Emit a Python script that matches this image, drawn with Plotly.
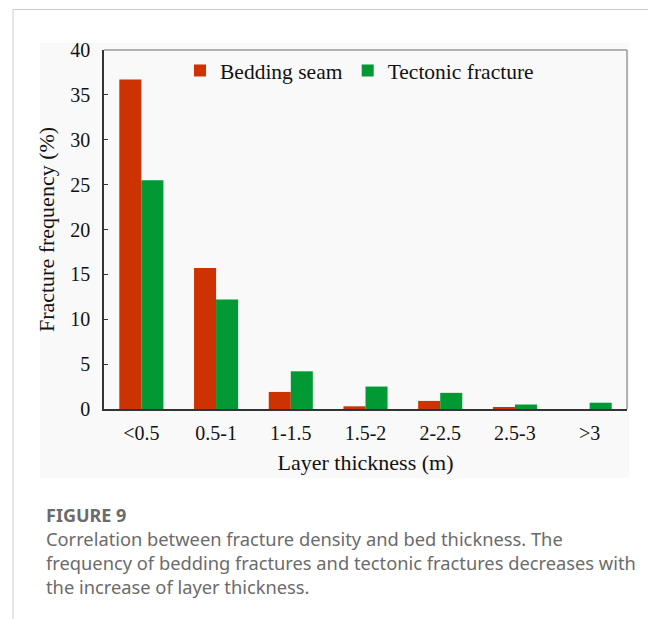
import plotly.graph_objects as go

# layer thickness classes and fracture frequencies (%)
thickness = ["<0.5", "0.5-1", "1-1.5", "1.5-2", "2-2.5", "2.5-3", ">3"]
bedding_seam = [36.7, 15.7, 1.9, 0.3, 0.9, 0.2, 0.0]
tectonic_fracture = [25.5, 12.2, 4.2, 2.5, 1.8, 0.5, 0.7]

# page has an 8px body margin, so the figure is drawn 8px smaller and
# reference pixel positions are shifted by that amount
OFF = 8
W, H = 656 - OFF, 619 - OFF
L, R, T, B = 104 - OFF, 29, 50 - OFF, 210
pw, ph = W - L - R, H - T - B


def px_x(x):
    return (x - OFF - L) / pw


def px_y(y):
    return (H - B - (y - OFF)) / ph


serif = "Liberation Serif, Times New Roman, serif"
sans = "Noto Sans, Open Sans, sans-serif"

fig = go.Figure()
fig.add_trace(go.Bar(x=thickness, y=bedding_seam, name="Bedding seam",
                     marker=dict(color="#cc3300", line=dict(width=0))))
fig.add_trace(go.Bar(x=thickness, y=tectonic_fracture, name="Tectonic fracture",
                     marker=dict(color="#009933", line=dict(width=0))))

fig.update_layout(
    width=W, height=H,
    margin=dict(l=L, r=R, t=T, b=B, autoexpand=False),
    paper_bgcolor="white",
    plot_bgcolor="#fafafa",
    barmode="group",
    bargap=0.41,
    bargroupgap=0,
    font=dict(family=serif, size=20, color="#111"),
    legend=dict(orientation="h", x=px_x(180), y=px_y(50), xanchor="left", yanchor="top",
                bgcolor="rgba(0,0,0,0)", font=dict(family=serif, size=21.5),
                itemwidth=30, traceorder="normal"),
    showlegend=True,
)

fig.update_yaxes(
    range=[0, 40], dtick=5, ticks="inside", ticklen=4, tickcolor="#333",
    showline=True, linecolor="#333", linewidth=1.5, showgrid=False, zeroline=False,
    ticklabelstandoff=8,
    title=dict(text="Fracture frequency (%)", font=dict(family=serif, size=22), standoff=10),
)
fig.update_xaxes(
    showline=True, linecolor="#333", linewidth=1.5, ticks="", showgrid=False,
    ticklabelstandoff=5,
    title=dict(text="Layer thickness (m)", font=dict(family=serif, size=22), standoff=12),
)

shapes = [
    # light grey card behind the chart
    dict(type="rect", xref="paper", yref="paper", x0=px_x(40), x1=px_x(629),
         y0=px_y(478), y1=px_y(43), fillcolor="#f9f9f9", line=dict(width=0), layer="below"),
    # top and right frame of plot
    dict(type="line", xref="paper", yref="paper", x0=0, x1=1, y0=1, y1=1,
         line=dict(color="#999", width=1.5)),
    dict(type="line", xref="paper", yref="paper", x0=1, x1=1, y0=0, y1=1,
         line=dict(color="#999", width=1.5)),
    # outer page border
    dict(type="line", xref="paper", yref="paper", x0=px_x(13), x1=px_x(655),
         y0=px_y(9.5), y1=px_y(9.5), line=dict(color="#cccccc", width=1)),
    dict(type="line", xref="paper", yref="paper", x0=px_x(13), x1=px_x(13),
         y0=px_y(9.5), y1=px_y(619), line=dict(color="#cccccc", width=1)),
    dict(type="line", xref="paper", yref="paper", x0=px_x(655), x1=px_x(655),
         y0=px_y(9.5), y1=px_y(619), line=dict(color="#cccccc", width=1)),
]
fig.update_layout(shapes=shapes)

fig.add_annotation(
    text="<b>FIGURE 9</b>", xref="paper", yref="paper", x=px_x(44), y=px_y(515),
    xanchor="left", yanchor="middle", showarrow=False,
    font=dict(family=sans, size=18, color="#6b6b6b"),
)
fig.add_annotation(
    text="Correlation between fracture density and bed thickness. The<br>"
         "frequency of bedding fractures and tectonic fractures decreases with<br>"
         "the increase of layer thickness.",
    xref="paper", yref="paper", x=px_x(44), y=px_y(524), xanchor="left", yanchor="top",
    align="left", showarrow=False,
    font=dict(family=sans, size=18.3, color="#6b6b6b"),
)

fig.write_html("out.html")
